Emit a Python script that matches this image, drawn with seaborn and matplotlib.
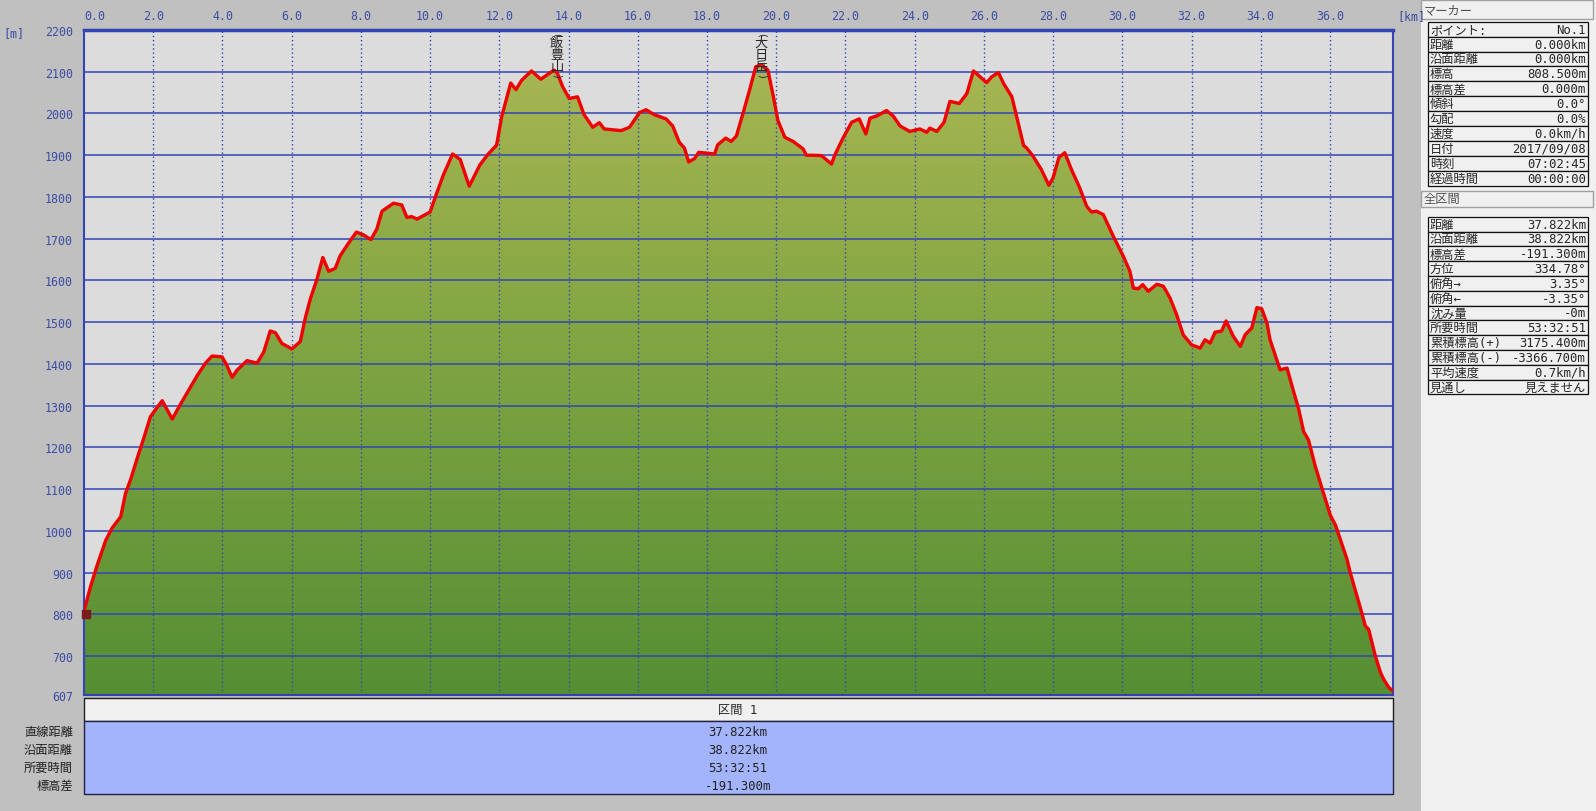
import numpy as np
import matplotlib
matplotlib.use('Agg')
import matplotlib.pyplot as plt
import seaborn as sns
from matplotlib.colors import LinearSegmentedColormap
from matplotlib.patches import Polygon, Rectangle

# elevation profile (km, m)
dist_km = [0.0, 0.19, 0.38, 0.63, 0.82, 1.06, 1.2, 1.35, 1.54, 1.71, 1.92, 2.07, 2.26, 2.55,
           2.79, 3.03, 3.27, 3.51, 3.7, 3.99, 4.12, 4.28, 4.42, 4.71, 5.0, 5.19, 5.38, 5.53,
           5.72, 6.01, 6.25, 6.39, 6.54, 6.73, 6.9, 7.07, 7.26, 7.4, 7.64, 7.87, 8.08, 8.29,
           8.46, 8.61, 8.94, 9.18, 9.33, 9.47, 9.62, 10.0, 10.19, 10.38, 10.65, 10.87, 11.13,
           11.44, 11.68, 11.92, 12.07, 12.33, 12.48, 12.64, 12.93, 13.2, 13.37, 13.58, 13.68,
           13.83, 14.02, 14.26, 14.45, 14.7, 14.89, 15.03, 15.52, 15.76, 16.05, 16.24, 16.48,
           16.82, 17.01, 17.2, 17.35, 17.47, 17.64, 17.76, 18.22, 18.31, 18.54, 18.7, 18.85,
           19.04, 19.23, 19.41, 19.57, 19.76, 19.91, 20.05, 20.25, 20.49, 20.78, 20.87, 21.07,
           21.31, 21.6, 21.69, 21.93, 22.18, 22.4, 22.59, 22.71, 22.9, 23.19, 23.38, 23.58,
           23.86, 24.15, 24.35, 24.44, 24.64, 24.85, 25.02, 25.29, 25.51, 25.7, 26.08, 26.23,
           26.42, 26.57, 26.81, 27.15, 27.23, 27.42, 27.66, 27.88, 28.0, 28.17, 28.34, 28.53,
           28.77, 28.97, 29.11, 29.25, 29.45, 29.74, 30.03, 30.22, 30.32, 30.46, 30.59, 30.75,
           31.0, 31.19, 31.38, 31.57, 31.76, 32.0, 32.25, 32.39, 32.54, 32.68, 32.87, 33.0,
           33.21, 33.41, 33.55, 33.74, 33.89, 34.03, 34.18, 34.27, 34.56, 34.76, 34.95, 35.09,
           35.24, 35.38, 35.58, 35.77, 36.01, 36.16, 36.49, 36.59, 36.93, 37.02, 37.12, 37.31,
           37.46, 37.55, 37.7, 37.822]
elev_m = [808, 867, 918, 978, 1008, 1034, 1090, 1124, 1175, 1218, 1274, 1291, 1312, 1268,
          1304, 1338, 1372, 1402, 1419, 1417, 1398, 1368, 1385, 1408, 1402, 1428, 1479, 1475,
          1449, 1436, 1454, 1509, 1556, 1603, 1655, 1622, 1629, 1659, 1689, 1716, 1709, 1698,
          1723, 1766, 1785, 1781, 1751, 1753, 1747, 1764, 1809, 1852, 1903, 1890, 1826,
          1877, 1903, 1924, 1993, 2073, 2057, 2079, 2102, 2082, 2092, 2104, 2096,
          2064, 2036, 2040, 1997, 1967, 1978, 1963, 1959, 1967, 2002, 2009, 1997,
          1987, 1970, 1931, 1917, 1884, 1892, 1907, 1903, 1925, 1941, 1933, 1946,
          2000, 2056, 2112, 2116, 2104, 2044, 1983, 1943, 1933, 1915, 1900, 1900,
          1899, 1879, 1900, 1941, 1979, 1987, 1951, 1989, 1994, 2007, 1994, 1970,
          1957, 1963, 1955, 1965, 1957, 1979, 2029, 2024, 2048, 2102, 2074, 2088,
          2098, 2072, 2040, 1923, 1918, 1898, 1866, 1828, 1846, 1895, 1906, 1866,
          1822, 1778, 1764, 1766, 1758, 1706, 1658, 1622, 1582, 1580, 1590, 1574,
          1591, 1586, 1558, 1518, 1470, 1446, 1438, 1458, 1450, 1476, 1479, 1503,
          1466, 1442, 1470, 1486, 1535, 1532, 1498, 1458, 1386, 1390, 1334, 1294,
          1238, 1218, 1154, 1102, 1038, 1014, 933, 899, 801, 773, 764, 701,
          661, 645, 625, 617]

peak_names = ['飯豊山', '大日岳']
peak_km = [13.66, 19.57]

x_ticks = list(range(0, 37, 2))
y_ticks = [607, 700, 800, 900, 1000, 1100, 1200, 1300, 1400, 1500, 1600, 1700, 1800,
           1900, 2000, 2100, 2200]

section_title = '区間 1'
section_labels = ['直線距離', '沿面距離', '所要時間', '標高差']
section_values = ['37.822km', '38.822km', '53:32:51', '-191.300m']

marker_labels = ['ポイント:', '距離', '沿面距離', '標高', '標高差', '傾斜', '勾配', '速度',
                 '日付', '時刻', '経過時間']
marker_values = ['No.1', '0.000km', '0.000km', '808.500m', '0.000m', '0.0°', '0.0%',
                 '0.0km/h', '2017/09/08', '07:02:45', '00:00:00']
total_labels = ['距離', '沿面距離', '標高差', '方位', '俯角→', '俯角←', '沈み量', '所要時間',
                '累積標高(+)', '累積標高(-)', '平均速度', '見通し']
total_values = ['37.822km', '38.822km', '-191.300m', '334.78°', '3.35°', '-3.35°', '-0m',
                '53:32:51', '3175.400m', '-3366.700m', '0.7km/h', '見えません']

sns.set_style('white')
plt.rcParams['font.family'] = ['DejaVu Sans Mono', 'Noto Sans CJK JP']

W, H = 1596, 812
BLUE = '#3444b4'
TXT_BLUE = '#3c4ca4'
FS = 8.8
fig = plt.figure(figsize=(W / 100, H / 100), dpi=100, facecolor='#c0c0c0')


def fbox(l, t, r, b):
    return [l / W, 1 - b / H, (r - l) / W, (b - t) / H]


ax = fig.add_axes(fbox(84, 31, 1393, 696))
ax.set_facecolor('#dcdcdc')
xmax = dist_km[-1]
ax.set_xlim(0, xmax)
ax.set_ylim(607, 2200)

# green gradient clipped to the profile
cmap = LinearSegmentedColormap.from_list('g', ['#558e33', '#7ea441', '#abb854'])
grad = np.linspace(0, 1, 256).reshape(-1, 1)
im = ax.imshow(grad, extent=[0, xmax, 607, 2200], origin='lower', aspect='auto',
               cmap=cmap, zorder=1)
verts = [(dist_km[0], 607)] + list(zip(dist_km, elev_m)) + [(dist_km[-1], 607)]
poly = Polygon(verts, closed=True, facecolor='none', edgecolor='none')
ax.add_patch(poly)
im.set_clip_path(poly)

for yv in y_ticks[1:-1]:
    ax.axhline(yv, color=BLUE, lw=1.1, zorder=2)
for xv in x_ticks[1:]:
    ax.axvline(xv, color=BLUE, lw=1.0, ls=(0, (1, 2)), zorder=2)

sns.lineplot(x=dist_km, y=elev_m, color='#f00000', lw=2.4, ax=ax, zorder=4)
ax.scatter([0.05], [800], marker='s', s=28, color='#7a1c1c', zorder=5, clip_on=False)

ax.set_xticks(x_ticks)
ax.set_xticklabels([f'{v:.1f}' for v in x_ticks])
ax.xaxis.tick_top()
ax.set_yticks(y_ticks)
ax.set_yticklabels([str(v) for v in y_ticks])
ax.tick_params(axis='x', length=0, pad=6, labelsize=8.4, labelcolor=TXT_BLUE)
ax.tick_params(axis='y', length=0, pad=8, labelsize=8.4, labelcolor=TXT_BLUE)
ax.get_xticklabels()[0].set_ha('left')
ax.grid(False)
for s in ax.spines.values():
    s.set_color(BLUE)
    s.set_linewidth(1.5)
ax.spines['top'].set_linewidth(2.5)

# peak labels, written top to bottom between bracket arcs
cjk = ['Noto Sans CJK JP', 'DejaVu Sans']
for name, km in zip(peak_names, peak_km):
    ax.text(km, 2191, '(', rotation=-90, ha='center', va='center', fontsize=7,
            family='DejaVu Sans', zorder=6)
    ax.text(km, 2186, '\n'.join(name), ha='center', va='top', fontsize=9.5,
            linespacing=0.92, family=cjk, zorder=6)
    ax.text(km, 2093, ')', rotation=-90, ha='center', va='center', fontsize=7,
            family='DejaVu Sans', zorder=6)

# overlay in pixel coordinates for panels and tables
ov = fig.add_axes([0, 0, 1, 1], zorder=-1)
ov.set_xlim(0, W)
ov.set_ylim(H, 0)
ov.axis('off')
ov.patch.set_alpha(0)

fig.text(3 / W, 1 - 34 / H, '[m]', color=TXT_BLUE, fontsize=8.4, va='center')
fig.text(1397 / W, 1 - 17 / H, '[km]', color=TXT_BLUE, fontsize=8.4, va='center')

# bottom section table
ov.add_patch(Rectangle((84, 699), 1309, 23, fc='#f0f0f0', ec='#202020', lw=1))
ov.text(738, 710.5, section_title, ha='center', va='center', fontsize=FS)
ov.add_patch(Rectangle((84, 722), 1309, 73, fc='#a4b4fc', ec='#202040', lw=1))
for i, (lab, val) in enumerate(zip(section_labels, section_values)):
    yy = 732.5 + i * 18
    ov.text(73, yy, lab, ha='right', va='center', fontsize=FS, color='#202020')
    ov.text(738, yy, val, ha='center', va='center', fontsize=FS, color='#202020')

# right panel
ov.add_patch(Rectangle((1421, 0), 175, H, fc='#f0f0f0', ec='none'))


def header(y0, y1, title):
    ov.add_patch(Rectangle((1421, y0), 172, y1 - y0, fc='#f0f0f0', ec='#a0a0a0', lw=1))
    ov.text(1424, (y0 + y1) / 2, title, ha='left', va='center', fontsize=FS, color='#505050')


def info_table(top, labels, values, rh=14.9):
    for i, (lab, val) in enumerate(zip(labels, values)):
        y0 = top + i * rh
        ov.add_patch(Rectangle((1428, y0), 160, rh, fc='#f0f0f0', ec='#101010', lw=0.9))
        ov.text(1430, y0 + rh / 2, lab, ha='left', va='center', fontsize=FS)
        ov.text(1586, y0 + rh / 2, val, ha='right', va='center', fontsize=FS)


header(1, 20, 'マーカー')
info_table(22.7, marker_labels, marker_values)
header(192, 208, '全区間')
info_table(217.7, total_labels, total_values, rh=14.8)

fig.savefig('out.png', dpi=100, facecolor=fig.get_facecolor())
